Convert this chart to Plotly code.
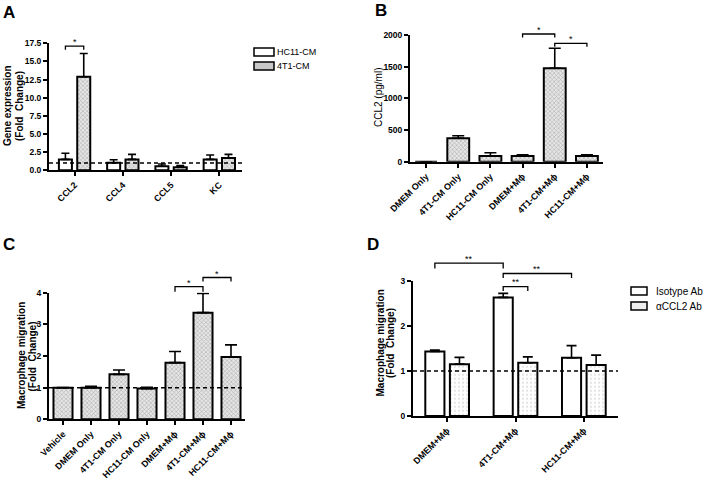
import plotly.graph_objects as go

# ---------------- data ----------------
A_cats = ["CCL2", "CCL4", "CCL5", "KC"]
A_hc11 = [1.5, 1.05, 0.55, 1.5]
A_hc11_err = [0.84, 0.41, 0.32, 0.6]
A_4t1 = [12.9, 1.5, 0.41, 1.69]
A_4t1_err = [3.2, 0.7, 0.23, 0.51]

B_cats = ["DMEM Only", "4T1-CM Only", "HC11-CM Only", "DMEM+Mϕ", "4T1-CM+Mϕ", "HC11-CM+Mϕ"]
B_vals = [0, 369, 90, 90, 1474, 90]
B_err = [0, 41, 52, 20, 316, 20]

C_cats = ["Vehicle", "DMEM Only", "4T1-CM Only", "HC11-CM Only", "DMEM+Mϕ", "4T1-CM+Mϕ", "HC11-CM+Mϕ"]
C_vals = [1.0, 1.0, 1.42, 0.97, 1.79, 3.37, 1.97]
C_err = [0, 0.04, 0.14, 0.04, 0.35, 0.61, 0.38]

D_cats = ["DMEM+Mϕ", "4T1-CM+Mϕ", "HC11-CM+Mϕ"]
D_iso = [1.43, 2.63, 1.29]
D_iso_err = [0.03, 0.09, 0.27]
D_ab = [1.15, 1.18, 1.13]
D_ab_err = [0.15, 0.13, 0.22]

# brackets: (x0, x1, y_line, y_drop_end, y_star, label)
A_brackets = [(-0.19, 0.19, 17.1, 16.6, 17.7, "*")]
B_brackets = [(3, 4, 2016, 1960, 2075, "*"), (4, 5, 1869, 1815, 1930, "*")]
C_brackets = [(4, 5, 4.19, 4.03, 4.31, "*"), (5, 6, 4.48, 4.35, 4.60, "*")]
D_brackets = [(-0.18, 0.82, 3.39, 3.27, 3.49, "**"),
              (0.82, 1.82, 3.16, 3.06, 3.26, "**"),
              (0.82, 1.18, 2.87, 2.77, 2.97, "**")]

W, H = 706, 480
FONT = "Liberation Sans"

def px2x(p):
    return p / W

def px2y(p):
    return 1 - p / H

# panel geometry (pixels): x0, x1, ytop, ybottom
geo = {
    "A": (49, 242, 43.3, 170.3),
    "B": (410, 603, 35, 161.7),
    "C": (49, 245, 292.7, 419.3),
    "D": (413, 618, 280.7, 416),
}
yranges = {"A": (0, 17.5), "B": (0, 2000), "C": (0, 4), "D": (0, 3)}
xranges = {"A": (-0.53, 3.47), "B": (-0.5, 5.5), "C": (-0.5, 6.5), "D": (-0.5, 2.5)}
axmap = {"A": ("x", "y"), "B": ("x2", "y2"), "C": ("x3", "y3"), "D": ("x4", "y4")}

def ypaper(panel, v):
    x0, x1, yt, yb = geo[panel]
    r0, r1 = yranges[panel]
    d0, d1 = px2y(yb), px2y(yt)
    return d0 + (v - r0) / (r1 - r0) * (d1 - d0)

dense = dict(shape="x", size=3, solidity=0.35, fgcolor="#6e6e6e", bgcolor="#e6e6e6")
sparse = dict(shape=".", size=4, solidity=0.12, fgcolor="#7a7a7a", bgcolor="white")
LINE = dict(color="black", width=2)

def err(arr, w):
    return dict(type="data", array=arr, arrayminus=[0] * len(arr), symmetric=False,
                color="black", thickness=1.6, width=w)

fig = go.Figure()

# Panel A
fig.add_trace(go.Bar(x=list(range(len(A_cats))), y=A_hc11, offset=-0.325, width=0.27,
                     marker=dict(color="white", line=LINE), error_y=err(A_hc11_err, 4),
                     xaxis="x", yaxis="y", showlegend=False))
fig.add_trace(go.Bar(x=list(range(len(A_cats))), y=A_4t1, offset=0.055, width=0.27,
                     marker=dict(color="#e6e6e6", line=LINE, pattern=dense), error_y=err(A_4t1_err, 4),
                     xaxis="x", yaxis="y", showlegend=False))
# Panel B
fig.add_trace(go.Bar(x=list(range(len(B_cats))), y=B_vals, width=0.68,
                     marker=dict(color="#e6e6e6", line=LINE, pattern=dense), error_y=err(B_err, 6),
                     xaxis="x2", yaxis="y2", showlegend=False))
# Panel C
fig.add_trace(go.Bar(x=list(range(len(C_cats))), y=C_vals, width=0.68,
                     marker=dict(color="#e6e6e6", line=LINE, pattern=dense), error_y=err(C_err, 6),
                     xaxis="x3", yaxis="y3", showlegend=False))
# Panel D
fig.add_trace(go.Bar(x=list(range(len(D_cats))), y=D_iso, offset=-0.32, width=0.28,
                     marker=dict(color="white", line=LINE), error_y=err(D_iso_err, 5),
                     xaxis="x4", yaxis="y4", showlegend=False))
fig.add_trace(go.Bar(x=list(range(len(D_cats))), y=D_ab, offset=0.04, width=0.28,
                     marker=dict(color="white", line=LINE, pattern=sparse), error_y=err(D_ab_err, 5),
                     xaxis="x4", yaxis="y4", showlegend=False))

xtickfont = dict(family=FONT, size=9, color="black", weight="bold")
ytickfont = dict(family=FONT, size=8.5, color="black", weight="bold")

def axes(panel, cats):
    x0, x1, yt, yb = geo[panel]
    xa = dict(domain=[px2x(x0), px2x(x1)], range=list(xranges[panel]),
              tickmode="array", tickvals=list(range(len(cats))), ticktext=cats,
              tickangle=-45, showline=True, linecolor="black", linewidth=2,
              ticks="outside", ticklen=4, tickwidth=1.5, tickcolor="black",
              showgrid=False, zeroline=False, tickfont=xtickfont, fixedrange=True,
              automargin=False)
    ya = dict(domain=[px2y(yb), px2y(yt)], range=list(yranges[panel]),
              showline=True, linecolor="black", linewidth=2,
              ticks="outside", ticklen=4, tickwidth=1.5, tickcolor="black",
              showgrid=False, zeroline=False, tickfont=ytickfont, fixedrange=True,
              automargin=False)
    return xa, ya

xa, ya = axes("A", A_cats)
ya.update(tickvals=[0, 2.5, 5, 7.5, 10, 12.5, 15, 17.5], tickformat=".1f", anchor="x")
xa.update(anchor="y")
fig.update_layout(xaxis=xa, yaxis=ya)
xa, ya = axes("B", B_cats)
ya.update(tickvals=[0, 500, 1000, 1500, 2000], anchor="x2")
xa.update(anchor="y2")
fig.update_layout(xaxis2=xa, yaxis2=ya)
xa, ya = axes("C", C_cats)
ya.update(tickvals=[0, 1, 2, 3, 4], anchor="x3")
xa.update(anchor="y3")
fig.update_layout(xaxis3=xa, yaxis3=ya)
xa, ya = axes("D", D_cats)
ya.update(tickvals=[0, 1, 2, 3], anchor="x4")
xa.update(anchor="y4")
fig.update_layout(xaxis4=xa, yaxis4=ya)

shapes = []
annotations = []

# dashed reference lines at fold change = 1
for panel in ["A", "C", "D"]:
    xr, yr = axmap[panel]
    shapes.append(dict(type="line", xref=xr + " domain", yref=yr, x0=0, x1=1, y0=1, y1=1,
                       line=dict(color="black", width=1.5, dash="4px,3px"), layer="above"))

# significance brackets
for panel, brs in [("A", A_brackets), ("B", B_brackets), ("C", C_brackets), ("D", D_brackets)]:
    xr, yr = axmap[panel]
    for (bx0, bx1, yl, yd, ys, lab) in brs:
        yl_p, yd_p, ys_p = ypaper(panel, yl), ypaper(panel, yd), ypaper(panel, ys)
        shapes.append(dict(type="path", xref=xr, yref="paper",
                           path=f"M {bx0} {yd_p} L {bx0} {yl_p} L {bx1} {yl_p} L {bx1} {yd_p}",
                           line=dict(color="black", width=1.3)))
        annotations.append(dict(x=(bx0 + bx1) / 2, y=ys_p, xref=xr, yref="paper", text=lab,
                                showarrow=False, xanchor="center", yanchor="middle",
                                font=dict(family=FONT, size=9, color="black")))

# panel letters
for lab, x, y in [("A", 9, 12), ("B", 381, 10), ("C", 9, 245), ("D", 373, 244)]:
    annotations.append(dict(x=px2x(x), y=px2y(y), xref="paper", yref="paper", text=lab,
                            showarrow=False, xanchor="center", yanchor="middle",
                            font=dict(family=FONT, size=17, color="black", weight="bold")))

# y-axis titles (one annotation per line)
ytitles = [
    ("Gene expression", 7, 106, True),
    ("(Fold  Change)", 19, 106, True),
    ("CCL2 (pg/ml)", 379, 98, False),
    ("Macrophage migration", 21, 356, True),
    ("(Fold  Change)", 31.5, 356, True),
    ("Macrophage migration", 379.5, 343, True),
    ("(Fold  Change)", 390, 343, True),
]
for txt, x, y, bold in ytitles:
    annotations.append(dict(x=px2x(x), y=px2y(y), xref="paper", yref="paper", text=txt,
                            showarrow=False, textangle=-90, xanchor="center", yanchor="middle",
                            font=dict(family=FONT, size=10, color="black",
                                      weight="bold" if bold else "normal")))

# legends (drawn as boxes + text)
legends = [
    ("HC11-CM", 254, 274, 48, 56, "white", 275, 9),
    ("4T1-CM", 254, 274, 62, 70, "#c8c8c8", 275, 9),
    ("Isotype Ab", 631, 647, 287, 295, "white", 654, 10),
    ("αCCL2 Ab", 631, 647, 302, 310, "#eeeeee", 654, 10),
]
for txt, bx0, bx1, by0, by1, fill, tx, fs in legends:
    shapes.append(dict(type="rect", xref="paper", yref="paper",
                       x0=px2x(bx0), x1=px2x(bx1), y0=px2y(by1), y1=px2y(by0),
                       fillcolor=fill, line=dict(color="black", width=1.5)))
    annotations.append(dict(x=px2x(tx), y=px2y((by0 + by1) / 2), xref="paper", yref="paper",
                            text=txt, showarrow=False, xanchor="left", yanchor="middle",
                            font=dict(family=FONT, size=fs, color="black")))

fig.update_layout(width=W, height=H, margin=dict(l=0, r=0, t=0, b=0, autoexpand=False),
                  paper_bgcolor="white", plot_bgcolor="white",
                  shapes=shapes, annotations=annotations, barmode="overlay",
                  showlegend=False, font=dict(family=FONT, color="black"))

fig.write_html("out.html", config={"displayModeBar": False},
               post_script="document.body.style.margin='0';")
